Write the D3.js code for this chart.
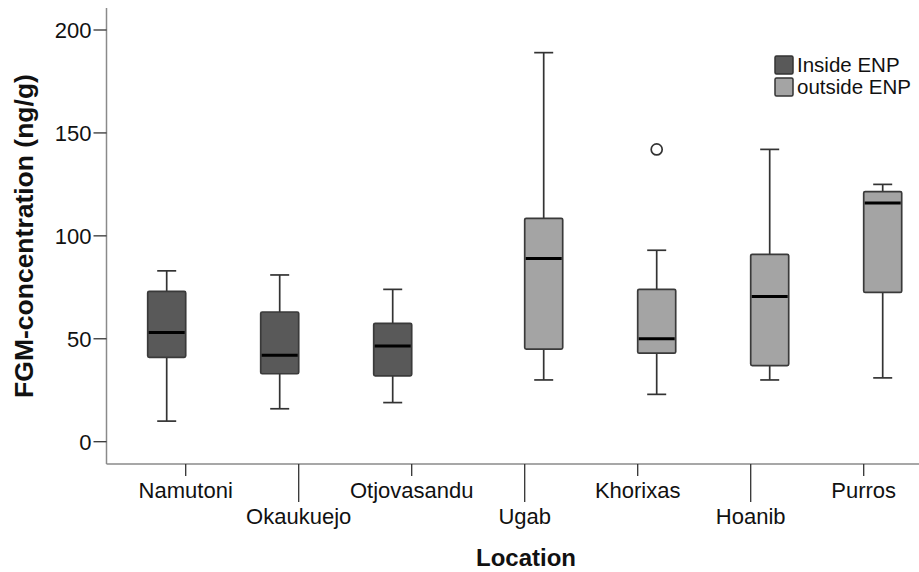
<!DOCTYPE html>
<html>
<head>
<meta charset="utf-8">
<script src="https://cdn.jsdelivr.net/npm/d3@7"></script>
<style>
    body { margin: 0; background: #fff; }
    text { font-family: "Liberation Sans", Arial, Helvetica, sans-serif; fill: #111; }
</style>
</head>
<body>
<div id="chart"></div>
<script>

// chart values
var locations = ["Namutoni", "Okaukuejo", "Otjovasandu", "Ugab", "Khorixas", "Hoanib", "Purros"];
var groups = ["Inside ENP", "outside ENP"];
var locationGroup = ["Inside ENP", "Inside ENP", "Inside ENP", "outside ENP", "outside ENP", "outside ENP", "outside ENP"];
var whiskerLow = [10, 16, 19, 30, 23, 30, 31];
var q1 = [41, 33, 32, 45, 43, 37, 72.5];
var median = [53, 42, 46.5, 89, 50, 70.5, 116];
var q3 = [73, 63, 57.5, 108.5, 74, 91, 121.5];
var whiskerHigh = [83, 81, 74, 189, 93, 142, 125];
var outlierLocations = ["Khorixas"];
var outlierValues = [142];
var yTicks = [0, 50, 100, 150, 200];

var dim = { "w": 919, "h": 572 };
var groupColor = d3.scaleOrdinal().domain(groups).range(["#595959", "#a4a4a4"]);

var svg = d3.select("#chart").append("svg")
    .attr("width", dim.w)
    .attr("height", dim.h);

var axisX = 106.5;
var axisY = 464;

var y = d3.scaleLinear().domain([0, 200]).range([441.7, 30]);
var x = d3.scaleBand().domain(locations).range([129.2, 920.2]);
var inner = d3.scaleBand().domain(groups).range([-38, 38]);

var boxes = locations.map(function(loc, i) {
    return {
        "loc": loc,
        "group": locationGroup[i],
        "lo": whiskerLow[i], "q1": q1[i], "med": median[i], "q3": q3[i], "hi": whiskerHigh[i]
    };
});

function cx(d) {
    return x(d.loc) + x.bandwidth() / 2 + inner(d.group) + inner.bandwidth() / 2;
}

// axes lines
svg.append("line")
    .attr("x1", axisX).attr("x2", axisX)
    .attr("y1", 8).attr("y2", axisY)
    .attr("stroke", "#8a8a8a").attr("stroke-width", 1.5);
svg.append("line")
    .attr("x1", axisX).attr("x2", 919)
    .attr("y1", axisY).attr("y2", axisY)
    .attr("stroke", "#8a8a8a").attr("stroke-width", 1.5);

// y ticks
var yt = svg.append("g").attr("class", "y-ticks").selectAll("g")
    .data(yTicks).enter().append("g");
yt.append("line")
    .attr("x1", axisX - 13).attr("x2", axisX)
    .attr("y1", function(d) { return y(d); })
    .attr("y2", function(d) { return y(d); })
    .attr("stroke", "#333").attr("stroke-width", 1.3);
yt.append("text")
    .attr("x", axisX - 15)
    .attr("y", function(d) { return y(d) + 8; })
    .attr("text-anchor", "end")
    .style("font-size", "22px")
    .text(function(d) { return d; });

// x ticks, staggered labels
var xt = svg.append("g").attr("class", "x-ticks").selectAll("g")
    .data(locations).enter().append("g");
xt.append("line")
    .attr("x1", function(d) { return x(d) + x.bandwidth() / 2; })
    .attr("x2", function(d) { return x(d) + x.bandwidth() / 2; })
    .attr("y1", axisY)
    .attr("y2", function(d, i) { return i % 2 ? 502 : 476; })
    .attr("stroke", "#333").attr("stroke-width", 1.3);
xt.append("text")
    .attr("x", function(d) { return x(d) + x.bandwidth() / 2; })
    .attr("y", function(d, i) { return i % 2 ? 524 : 498; })
    .attr("text-anchor", "middle")
    .style("font-size", "22px")
    .text(function(d) { return d; });

// axis titles
svg.append("text")
    .attr("x", 526).attr("y", 566)
    .attr("text-anchor", "middle")
    .style("font-size", "24px").style("font-weight", "bold")
    .text("Location");
svg.append("text")
    .attr("transform", "translate(33,236) rotate(-90)")
    .attr("text-anchor", "middle")
    .style("font-size", "26.5px").style("font-weight", "bold")
    .text("FGM-concentration (ng/g)");

// boxes
var box = svg.append("g").attr("class", "boxes").selectAll("g")
    .data(boxes).enter().append("g");

box.append("line")
    .attr("x1", cx).attr("x2", cx)
    .attr("y1", function(d) { return y(d.hi); })
    .attr("y2", function(d) { return y(d.lo); })
    .attr("stroke", "#333").attr("stroke-width", 1.7);
box.append("line")
    .attr("x1", function(d) { return cx(d) - 9.5; })
    .attr("x2", function(d) { return cx(d) + 9.5; })
    .attr("y1", function(d) { return y(d.hi); })
    .attr("y2", function(d) { return y(d.hi); })
    .attr("stroke", "#333").attr("stroke-width", 1.7);
box.append("line")
    .attr("x1", function(d) { return cx(d) - 9.5; })
    .attr("x2", function(d) { return cx(d) + 9.5; })
    .attr("y1", function(d) { return y(d.lo); })
    .attr("y2", function(d) { return y(d.lo); })
    .attr("stroke", "#333").attr("stroke-width", 1.7);
box.append("rect")
    .attr("x", function(d) { return cx(d) - 19; })
    .attr("width", 38)
    .attr("y", function(d) { return y(d.q3); })
    .attr("height", function(d) { return y(d.q1) - y(d.q3); })
    .attr("rx", 1.5)
    .attr("fill", function(d) { return groupColor(d.group); })
    .attr("stroke", "#3a3a3a").attr("stroke-width", 1.7);
box.append("line")
    .attr("x1", function(d) { return cx(d) - 18; })
    .attr("x2", function(d) { return cx(d) + 18; })
    .attr("y1", function(d) { return y(d.med); })
    .attr("y2", function(d) { return y(d.med); })
    .attr("stroke", "#000").attr("stroke-width", 3);

// outliers
svg.append("g").attr("class", "outliers").selectAll("circle")
    .data(outlierLocations.map(function(loc, i) {
        return { "loc": loc, "group": locationGroup[locations.indexOf(loc)], "v": outlierValues[i] };
    }))
    .enter().append("circle")
    .attr("cx", cx)
    .attr("cy", function(d) { return y(d.v); })
    .attr("r", 5.5)
    .attr("fill", "#fff")
    .attr("stroke", "#333").attr("stroke-width", 1.7);

// legend
var leg = svg.append("g").attr("class", "legend").selectAll("g")
    .data(groups).enter().append("g")
    .attr("transform", function(d, i) { return "translate(775," + (56 + i * 22) + ")"; });
leg.append("rect")
    .attr("width", 18).attr("height", 18).attr("rx", 1.5)
    .attr("fill", function(d) { return groupColor(d); })
    .attr("stroke", "#333").attr("stroke-width", 1.5);
leg.append("text")
    .attr("x", 22).attr("y", 16)
    .style("font-size", "20.5px")
    .text(function(d) { return d; });

</script>
</body>
</html>
